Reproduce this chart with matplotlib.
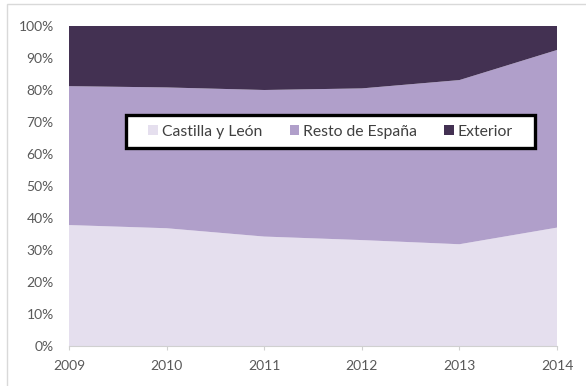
import matplotlib.pyplot as plt
from matplotlib.patches import Rectangle
from matplotlib.ticker import FuncFormatter

years = [2009, 2010, 2011, 2012, 2013, 2014]
castilla = [37.8, 36.8, 34.2, 33.1, 31.8, 37.0]
resto = [43.4, 44.0, 45.8, 47.4, 51.3, 55.5]
exterior = [100 - c - r for c, r in zip(castilla, resto)]

labels = ['Castilla y León', 'Resto de España', 'Exterior']
colors = ['#E5DFEE', '#B09FCA', '#433152']

plt.rcParams['font.family'] = ['Lato', 'DejaVu Sans']

fig = plt.figure(figsize=(5.86, 3.86), dpi=100)
ax = fig.add_axes([69 / 586, 40 / 386, 488 / 586, 320 / 386])

ax.stackplot(years, castilla, resto, exterior, colors=colors, labels=labels)

ax.set_xlim(2009, 2014)
ax.set_ylim(0, 100)
ax.set_yticks(range(0, 101, 10))
ax.yaxis.set_major_formatter(FuncFormatter(lambda v, p: '%d%%' % v))
ax.set_xticks(years)

for s in ['top', 'right', 'left']:
    ax.spines[s].set_visible(False)
ax.spines['bottom'].set_color('#D0D0D0')
ax.tick_params(axis='y', length=0, labelsize=10, labelcolor='#595959', pad=11)
ax.tick_params(axis='x', length=3, color='#D0D0D0', labelsize=10,
               labelcolor='#595959', pad=7)

# legend box drawn separately so the padding matches the original
ax.add_patch(Rectangle((57 / 488, 198 / 320), 409 / 488, 33 / 320,
                       transform=ax.transAxes, facecolor='white',
                       edgecolor='black', linewidth=2.4, zorder=5))
leg = ax.legend(loc='center', bbox_to_anchor=(0.536, 0.670), ncol=3,
                frameon=False, fontsize=11.3,
                handlelength=0.6, handleheight=0.6, handletextpad=0.25,
                columnspacing=1.75, borderpad=0.3)
leg.set_zorder(6)
for t in leg.get_texts():
    t.set_color('#404040')

# light frame around the whole chart
fig.patches.append(Rectangle((7 / 586, -10 / 386), 600 / 586, 392 / 386,
                             transform=fig.transFigure, fill=False,
                             edgecolor='#D9D9D9', linewidth=1))

plt.savefig('out.png', dpi=100)
